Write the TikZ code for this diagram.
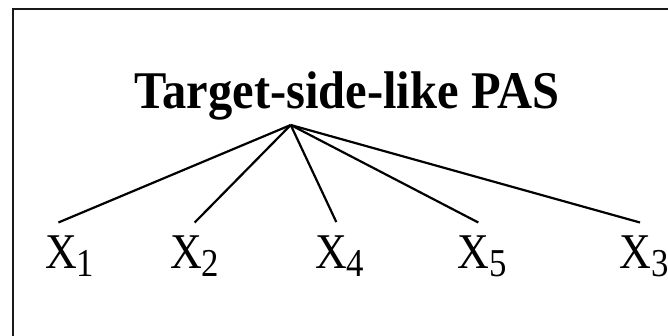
\documentclass[tikz,border=0pt]{standalone}
\usepackage{fontspec}
\usepackage{graphicx}
\setmainfont{Liberation Serif}
% condensed serif faces for the heading and the leaf labels
\newfontfamily\headfont[FakeStretch=0.915]{Liberation Serif}
\newfontfamily\leaffont[FakeStretch=0.88]{Liberation Serif}
\newcommand{\leaf}[1]{{\fontsize{50}{56}\selectfont X}\raisebox{-8.5pt}{\fontsize{39.5}{44}\selectfont #1}}
\tikzset{
  heading/.style={inner sep=0pt, anchor=base west, font=\headfont\bfseries\fontsize{53}{60}\selectfont},
  leafnode/.style={inner sep=0pt, anchor=base west, font=\leaffont},
  branch/.style={line width=2.2pt, black},
  frameline/.style={line width=2pt, black!90},
}
\begin{document}
\begin{tikzpicture}[x=1pt,y=-1pt]
  \useasboundingbox (0,0) rectangle (668,336);
  % frame edges
  \draw[frameline] (13,336) -- (13,9.5) -- (668,9.5);
  % heading
  \node[heading] (title) at (134.5,108.3) {Target-side-like PAS};
  \coordinate (root) at (290.7,125);
  % leaf labels
  \node[leafnode] (x1) at (45,268.3) {\leaf{1}};
  \node[leafnode] (x2) at (170,268.3) {\leaf{2}};
  \node[leafnode] (x4) at (315,268.3) {\leaf{4}};
  \node[leafnode] (x5) at (457.3,268.3) {\leaf{5}};
  \node[leafnode] (x3) at (619.3,268.3) {\leaf{3}};
  % branch ends above each label
  \coordinate (e1) at (58.4,222.5);
  \coordinate (e2) at (194.7,222.5);
  \coordinate (e4) at (336.3,222);
  \coordinate (e5) at (478.3,222.5);
  \coordinate (e3) at (640,222.5);
  \foreach \k in {1,2,4,5,3} \draw[branch] (root) -- (e\k);
\end{tikzpicture}
\end{document}
